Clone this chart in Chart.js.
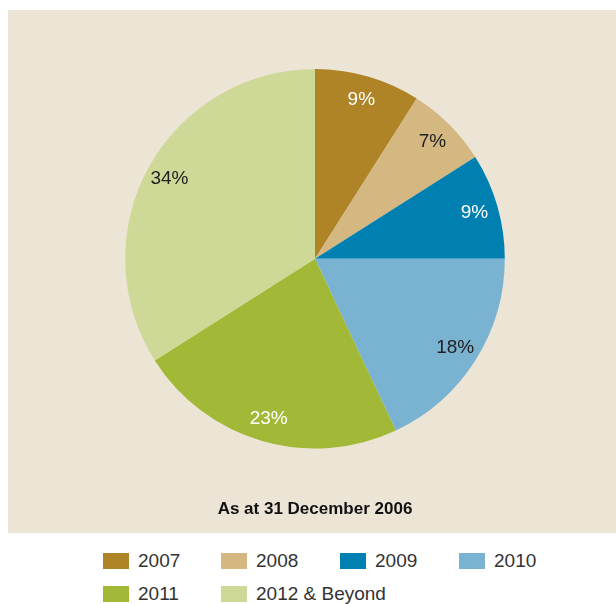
<!DOCTYPE html>
<html>
<head>
<meta charset="utf-8">
<script src="https://cdn.jsdelivr.net/npm/chart.js@4"></script>
<style>
  body { margin: 0; background: #fff; font-family: "Liberation Sans", Arial, sans-serif; }
  #panel { position: absolute; left: 8px; top: 10px; width: 608px; height: 523px; background: #ece5d6; }
  #legend { position: absolute; left: 0; top: 0; }
  .item { position: absolute; height: 20px; display: flex; align-items: center; font-size: 19px; color: #333; white-space: nowrap; }
  .box { width: 26px; height: 16px; margin-right: 9px; }
</style>
</head>
<body>
<div id="panel"><canvas id="canvas" width="608" height="523"></canvas></div>
<div id="legend"></div>
<script>
// maturity profile
let years = ['2007', '2008', '2009', '2010', '2011', '2012 & Beyond'];
let shares = [9, 7, 9, 18, 23, 34];
let colours = ['#ae8427', '#d4b781', '#0080b0', '#7ab3d2', '#a2b937', '#ced997'];
let labelColours = ['#ffffff', '#222222', '#ffffff', '#222222', '#ffffff', '#222222'];

// percent labels inside each slice
let sliceLabels = {
    id: 'sliceLabels',
    afterDatasetsDraw(chart) {
        let ctx = chart.ctx;
        let arcs = chart.getDatasetMeta(0).data;
        ctx.save();
        ctx.font = '19px "Liberation Sans", Arial, sans-serif';
        ctx.textAlign = 'center';
        ctx.textBaseline = 'middle';
        arcs.forEach(function(arc, i) {
            let mid = (arc.startAngle + arc.endAngle) / 2;
            let r = arc.outerRadius * 0.875;
            ctx.fillStyle = labelColours[i];
            ctx.fillText(shares[i] + '%', arc.x + Math.cos(mid) * r, arc.y + Math.sin(mid) * r);
        });
        ctx.restore();
    }
};

let chart = new Chart(document.getElementById('canvas'), {
    type: 'pie',
    data: {
        labels: years,
        datasets: [{
            data: shares,
            backgroundColor: colours,
            borderWidth: 0
        }]
    },
    options: {
        responsive: false,
        animation: false,
        layout: { padding: { top: 59, left: 6, right: 0, bottom: 0 } },
        plugins: {
            legend: { display: false },
            tooltip: { enabled: false },
            title: {
                display: true,
                position: 'bottom',
                text: 'As at 31 December 2006',
                color: '#111',
                font: { family: '"Liberation Sans", Arial, sans-serif', size: 17, weight: 'bold' },
                padding: { top: 51, bottom: 13 }
            }
        }
    },
    plugins: [sliceLabels]
});

// legend below the panel, four per row
let legend = document.getElementById('legend');
let colX = [103, 221, 340, 459];
years.forEach(function(year, i) {
    let item = document.createElement('div');
    item.className = 'item';
    item.style.left = colX[i % 4] + 'px';
    item.style.top = (551 + Math.floor(i / 4) * 33) + 'px';
    let box = document.createElement('span');
    box.className = 'box';
    box.style.background = colours[i];
    item.appendChild(box);
    item.appendChild(document.createTextNode(year));
    legend.appendChild(item);
});
</script>
</body>
</html>
